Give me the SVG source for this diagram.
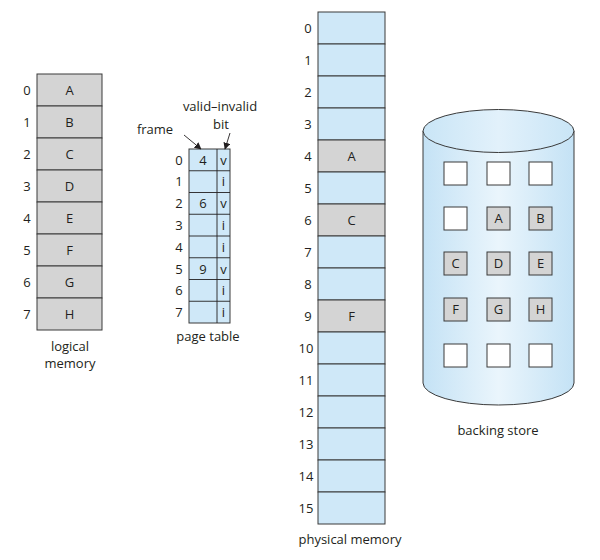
<svg xmlns="http://www.w3.org/2000/svg" width="600" height="560" viewBox="0 0 600 560">
<defs>
<style>
text{font-family:"Open Sans","Liberation Sans",sans-serif;font-size:13px;fill:#231f20;text-anchor:middle}
.b{fill:#cfe8f8;stroke:#3a3a3a;stroke-width:1}
.g{fill:#d4d4d4;stroke:#3a3a3a;stroke-width:1}
.w{fill:#ffffff;stroke:#3a3a3a;stroke-width:1}
.c{fill:none;stroke:#231f20;stroke-width:0.9}
</style>
<linearGradient id="cyl" x1="0" y1="0" x2="1" y2="0">
<stop offset="0" stop-color="#c4e2f5"/>
<stop offset="0.5" stop-color="#eaf5fc"/>
<stop offset="1" stop-color="#c4e2f5"/>
</linearGradient>
<linearGradient id="cyltop" x1="0" y1="0" x2="1" y2="0">
<stop offset="0" stop-color="#c9e5f6"/>
<stop offset="0.5" stop-color="#e2f1fb"/>
<stop offset="1" stop-color="#c9e5f6"/>
</linearGradient>
<marker id="ah" viewBox="0 0 10 10" refX="9" refY="5" markerWidth="7" markerHeight="7" orient="auto" markerUnits="userSpaceOnUse">
<path d="M0,0 L10,5 L0,10 z" fill="#231f20"/>
</marker>
</defs>

<g id="logical-memory">
<rect class="g" x="37" y="74" width="65" height="32"/>
<rect class="g" x="37" y="106" width="65" height="32"/>
<rect class="g" x="37" y="138" width="65" height="32"/>
<rect class="g" x="37" y="170" width="65" height="32"/>
<rect class="g" x="37" y="202" width="65" height="32"/>
<rect class="g" x="37" y="234" width="65" height="32"/>
<rect class="g" x="37" y="266" width="65" height="32"/>
<rect class="g" x="37" y="298" width="65" height="32"/>
<text x="69.5" y="94.5">A</text>
<text x="69.5" y="126.5">B</text>
<text x="69.5" y="158.5">C</text>
<text x="69.5" y="190.5">D</text>
<text x="69.5" y="222.5">E</text>
<text x="69.5" y="254.5">F</text>
<text x="69.5" y="286.5">G</text>
<text x="69.5" y="318.5">H</text>
<text x="27" y="94.5">0</text>
<text x="27" y="126.5">1</text>
<text x="27" y="158.5">2</text>
<text x="27" y="190.5">3</text>
<text x="27" y="222.5">4</text>
<text x="27" y="254.5">5</text>
<text x="27" y="286.5">6</text>
<text x="27" y="318.5">7</text>
<text x="70" y="351">logical</text>
<text x="70" y="368">memory</text>
</g>

<g id="page-table">
<rect class="b" x="189" y="149" width="41" height="174"/>
<line class="c" x1="217" y1="149" x2="217" y2="323"/>
<line class="c" x1="189" y1="170.75" x2="230" y2="170.75"/>
<line class="c" x1="189" y1="192.5" x2="230" y2="192.5"/>
<line class="c" x1="189" y1="214.25" x2="230" y2="214.25"/>
<line class="c" x1="189" y1="236" x2="230" y2="236"/>
<line class="c" x1="189" y1="257.75" x2="230" y2="257.75"/>
<line class="c" x1="189" y1="279.5" x2="230" y2="279.5"/>
<line class="c" x1="189" y1="301.25" x2="230" y2="301.25"/>
<text x="203" y="164.5">4</text>
<text x="203" y="208">6</text>
<text x="203" y="273.5">9</text>
<text x="223.5" y="164.5">v</text>
<text x="223.5" y="186">i</text>
<text x="223.5" y="208">v</text>
<text x="223.5" y="229.5">i</text>
<text x="223.5" y="251.5">i</text>
<text x="223.5" y="273.5">v</text>
<text x="223.5" y="295">i</text>
<text x="223.5" y="317">i</text>
<text x="179" y="164.5">0</text>
<text x="179" y="186">1</text>
<text x="179" y="208">2</text>
<text x="179" y="229.5">3</text>
<text x="179" y="251.5">4</text>
<text x="179" y="273.5">5</text>
<text x="179" y="295">6</text>
<text x="179" y="317">7</text>
<text x="155" y="134">frame</text>
<text x="220" y="111">valid–invalid</text>
<text x="221" y="129">bit</text>
<text x="208" y="341">page table</text>
</g>

<g id="physical-memory">
<rect class="b" x="318" y="12" width="67" height="32"/>
<rect class="b" x="318" y="44" width="67" height="32"/>
<rect class="b" x="318" y="76" width="67" height="32"/>
<rect class="b" x="318" y="108" width="67" height="32"/>
<rect class="g" x="318" y="140" width="67" height="32"/>
<rect class="b" x="318" y="172" width="67" height="32"/>
<rect class="g" x="318" y="204" width="67" height="32"/>
<rect class="b" x="318" y="236" width="67" height="32"/>
<rect class="b" x="318" y="268" width="67" height="32"/>
<rect class="g" x="318" y="300" width="67" height="32"/>
<rect class="b" x="318" y="332" width="67" height="32"/>
<rect class="b" x="318" y="364" width="67" height="32"/>
<rect class="b" x="318" y="396" width="67" height="32"/>
<rect class="b" x="318" y="428" width="67" height="32"/>
<rect class="b" x="318" y="460" width="67" height="32"/>
<rect class="b" x="318" y="492" width="67" height="32"/>
<text x="351.5" y="160.5">A</text>
<text x="351.5" y="224.5">C</text>
<text x="351.5" y="320.5">F</text>
<text x="308" y="32.5">0</text>
<text x="308" y="64.5">1</text>
<text x="308" y="96.5">2</text>
<text x="308" y="128.5">3</text>
<text x="308" y="160.5">4</text>
<text x="308" y="192.5">5</text>
<text x="308" y="224.5">6</text>
<text x="308" y="256.5">7</text>
<text x="308" y="288.5">8</text>
<text x="308" y="320.5">9</text>
<text x="306" y="352.5">10</text>
<text x="306" y="384.5">11</text>
<text x="306" y="416.5">12</text>
<text x="306" y="448.5">13</text>
<text x="306" y="480.5">14</text>
<text x="306" y="512.5">15</text>
<text x="350" y="544">physical memory</text>
</g>

<g id="backing-store">
<path d="M423,131 L423,383 A75.5,22 0 0 0 574,383 L574,131 Z" fill="url(#cyl)" stroke="#3a3a3a" stroke-width="1"/>
<ellipse cx="498.5" cy="131" rx="75.5" ry="21.5" fill="url(#cyltop)" stroke="#3a3a3a" stroke-width="1"/>
<rect class="w" x="444" y="162" width="23" height="23"/>
<rect class="w" x="487" y="162" width="23" height="23"/>
<rect class="w" x="529" y="162" width="23" height="23"/>
<rect class="w" x="444" y="207" width="23" height="23"/>
<rect class="g" x="487" y="207" width="23" height="23"/>
<rect class="g" x="529" y="207" width="23" height="23"/>
<rect class="g" x="444" y="252" width="23" height="23"/>
<rect class="g" x="487" y="252" width="23" height="23"/>
<rect class="g" x="529" y="252" width="23" height="23"/>
<rect class="g" x="444" y="298" width="23" height="23"/>
<rect class="g" x="487" y="298" width="23" height="23"/>
<rect class="g" x="529" y="298" width="23" height="23"/>
<rect class="w" x="444" y="344" width="23" height="23"/>
<rect class="w" x="487" y="344" width="23" height="23"/>
<rect class="w" x="529" y="344" width="23" height="23"/>
<text x="498.5" y="223">A</text>
<text x="540.5" y="223">B</text>
<text x="455.5" y="268">C</text>
<text x="498.5" y="268">D</text>
<text x="540.5" y="268">E</text>
<text x="455.5" y="314">F</text>
<text x="498.5" y="314">G</text>
<text x="540.5" y="314">H</text>
<text x="498" y="435">backing store</text>
</g>

<g id="connectors">
<line class="c" x1="184" y1="135" x2="201" y2="149" marker-end="url(#ah)"/>
<line class="c" x1="230" y1="133" x2="225" y2="149" marker-end="url(#ah)"/>
</g>
</svg>
